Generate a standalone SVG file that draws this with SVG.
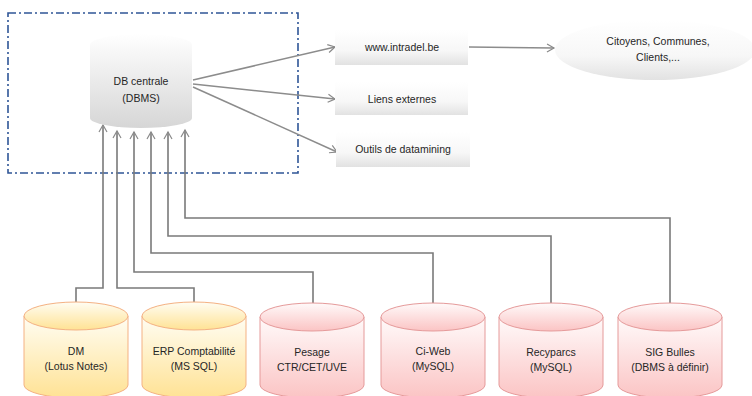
<svg xmlns="http://www.w3.org/2000/svg" width="752" height="396" viewBox="0 0 752 396">
<defs>
<linearGradient id="gGray" x1="0" y1="0" x2="0" y2="1">
<stop offset="0" stop-color="#ffffff"/>
<stop offset="1" stop-color="#d6d6d6"/>
</linearGradient>
<linearGradient id="gBox" x1="0" y1="0" x2="0" y2="1">
<stop offset="0" stop-color="#ffffff"/>
<stop offset="0.6" stop-color="#f7f7f7"/>
<stop offset="1" stop-color="#e2e2e2"/>
</linearGradient>
<linearGradient id="gYel" x1="0" y1="0" x2="0" y2="1">
<stop offset="0" stop-color="#fffdf3"/>
<stop offset="1" stop-color="#ffe294"/>
</linearGradient>
<linearGradient id="gPink" x1="0" y1="0" x2="0" y2="1">
<stop offset="0" stop-color="#fffafa"/>
<stop offset="1" stop-color="#fbc4c4"/>
</linearGradient>
<marker id="arr" markerWidth="10" markerHeight="10" refX="8" refY="5" orient="auto" markerUnits="userSpaceOnUse">
<path d="M1,1 L8,5 L1,9" fill="none" stroke="#8a8a8a" stroke-width="1.2"/>
</marker>
</defs>
<style>
text{font-family:"Liberation Sans","DejaVu Sans",sans-serif;font-size:10.5px;fill:#262626;text-anchor:middle}
.conn{fill:none;stroke:#7a7a7a;stroke-width:1.6}
.out{fill:none;stroke:#8c8c8c;stroke-width:1.5}
.yel{fill:url(#gYel);stroke:#f4b183;stroke-width:1}
.pink{fill:url(#gPink);stroke:#e59a9a;stroke-width:1}
.top{stroke-width:1}
</style>
<rect width="752" height="396" fill="#ffffff"/>

<g id="frame">
<rect x="8" y="13" width="290" height="160" fill="none" stroke="#2f5597" stroke-width="1.6" stroke-dasharray="8,3,2,3"/>
</g>

<g id="connectors">
<path class="out" d="M193,80 L335,47" marker-end="url(#arr)"/>
<path class="out" d="M193,84 L335,99" marker-end="url(#arr)"/>
<path class="out" d="M193,87 L337,152" marker-end="url(#arr)"/>
<path class="out" d="M469,47 L554,48" marker-end="url(#arr)"/>
<path class="conn" d="M76,302 V288 H103 V125" marker-end="url(#arr)"/>
<path class="conn" d="M194,302 V288 H117 V131" marker-end="url(#arr)"/>
<path class="conn" d="M313,303 V272 H134 V132" marker-end="url(#arr)"/>
<path class="conn" d="M433,303 V253 H151 V132" marker-end="url(#arr)"/>
<path class="conn" d="M551,303 V236 H168 V132" marker-end="url(#arr)"/>
<path class="conn" d="M670,303 V218 H185 V130" marker-end="url(#arr)"/>
</g>

<g id="db-centrale">
<path d="M90,45 A51 11 0 0 1 192,45 L192,118 A51 10 0 0 1 90,118 Z" fill="url(#gGray)"/>
<text x="141" y="85">DB centrale</text>
<text x="141" y="102">(DBMS)</text>
</g>

<g id="www">
<rect x="335" y="30" width="133" height="35" fill="url(#gBox)"/>
<text x="402" y="51">www.intradel.be</text>
</g>
<g id="liens">
<rect x="335" y="82" width="133" height="33" fill="url(#gBox)"/>
<text x="402" y="103">Liens externes</text>
</g>
<g id="outils">
<rect x="336" y="132" width="134" height="35" fill="url(#gBox)"/>
<text x="403" y="153">Outils de datamining</text>
</g>

<g id="citoyens">
<ellipse cx="655" cy="50" rx="100" ry="30" fill="url(#gBox)"/>
<text x="658" y="45">Citoyens, Communes,</text>
<text x="658" y="61">Clients,...</text>
</g>

<g id="dm">
<path class="yel" d="M24,316 V385 A52 13 0 0 0 128,385 V316"/>
<ellipse class="yel top" cx="76" cy="316" rx="52" ry="14"/>
<text x="76" y="355">DM</text>
<text x="76" y="370">(Lotus Notes)</text>
</g>
<g id="erp">
<path class="yel" d="M142,316 V385 A52 13 0 0 0 246,385 V316"/>
<ellipse class="yel top" cx="194" cy="316" rx="52" ry="14"/>
<text x="194" y="355">ERP Comptabilité</text>
<text x="194" y="370">(MS SQL)</text>
</g>
<g id="pesage">
<path class="pink" d="M260,317 V385 A52 13 0 0 0 364,385 V317"/>
<ellipse class="pink top" cx="312" cy="317" rx="52" ry="14"/>
<text x="312" y="356">Pesage</text>
<text x="312" y="371">CTR/CET/UVE</text>
</g>
<g id="ciweb">
<path class="pink" d="M381,317 V385 A52 13 0 0 0 485,385 V317"/>
<ellipse class="pink top" cx="433" cy="317" rx="52" ry="14"/>
<text x="433" y="355">Ci-Web</text>
<text x="433" y="370">(MySQL)</text>
</g>
<g id="recyparcs">
<path class="pink" d="M499,317 V385 A52 13 0 0 0 603,385 V317"/>
<ellipse class="pink top" cx="551" cy="317" rx="52" ry="14"/>
<text x="551" y="356">Recyparcs</text>
<text x="551" y="371">(MySQL)</text>
</g>
<g id="sig">
<path class="pink" d="M618,317 V385 A52 13 0 0 0 722,385 V317"/>
<ellipse class="pink top" cx="670" cy="317" rx="52" ry="14"/>
<text x="670" y="356">SIG Bulles</text>
<text x="670" y="371">(DBMS à définir)</text>
</g>
</svg>
